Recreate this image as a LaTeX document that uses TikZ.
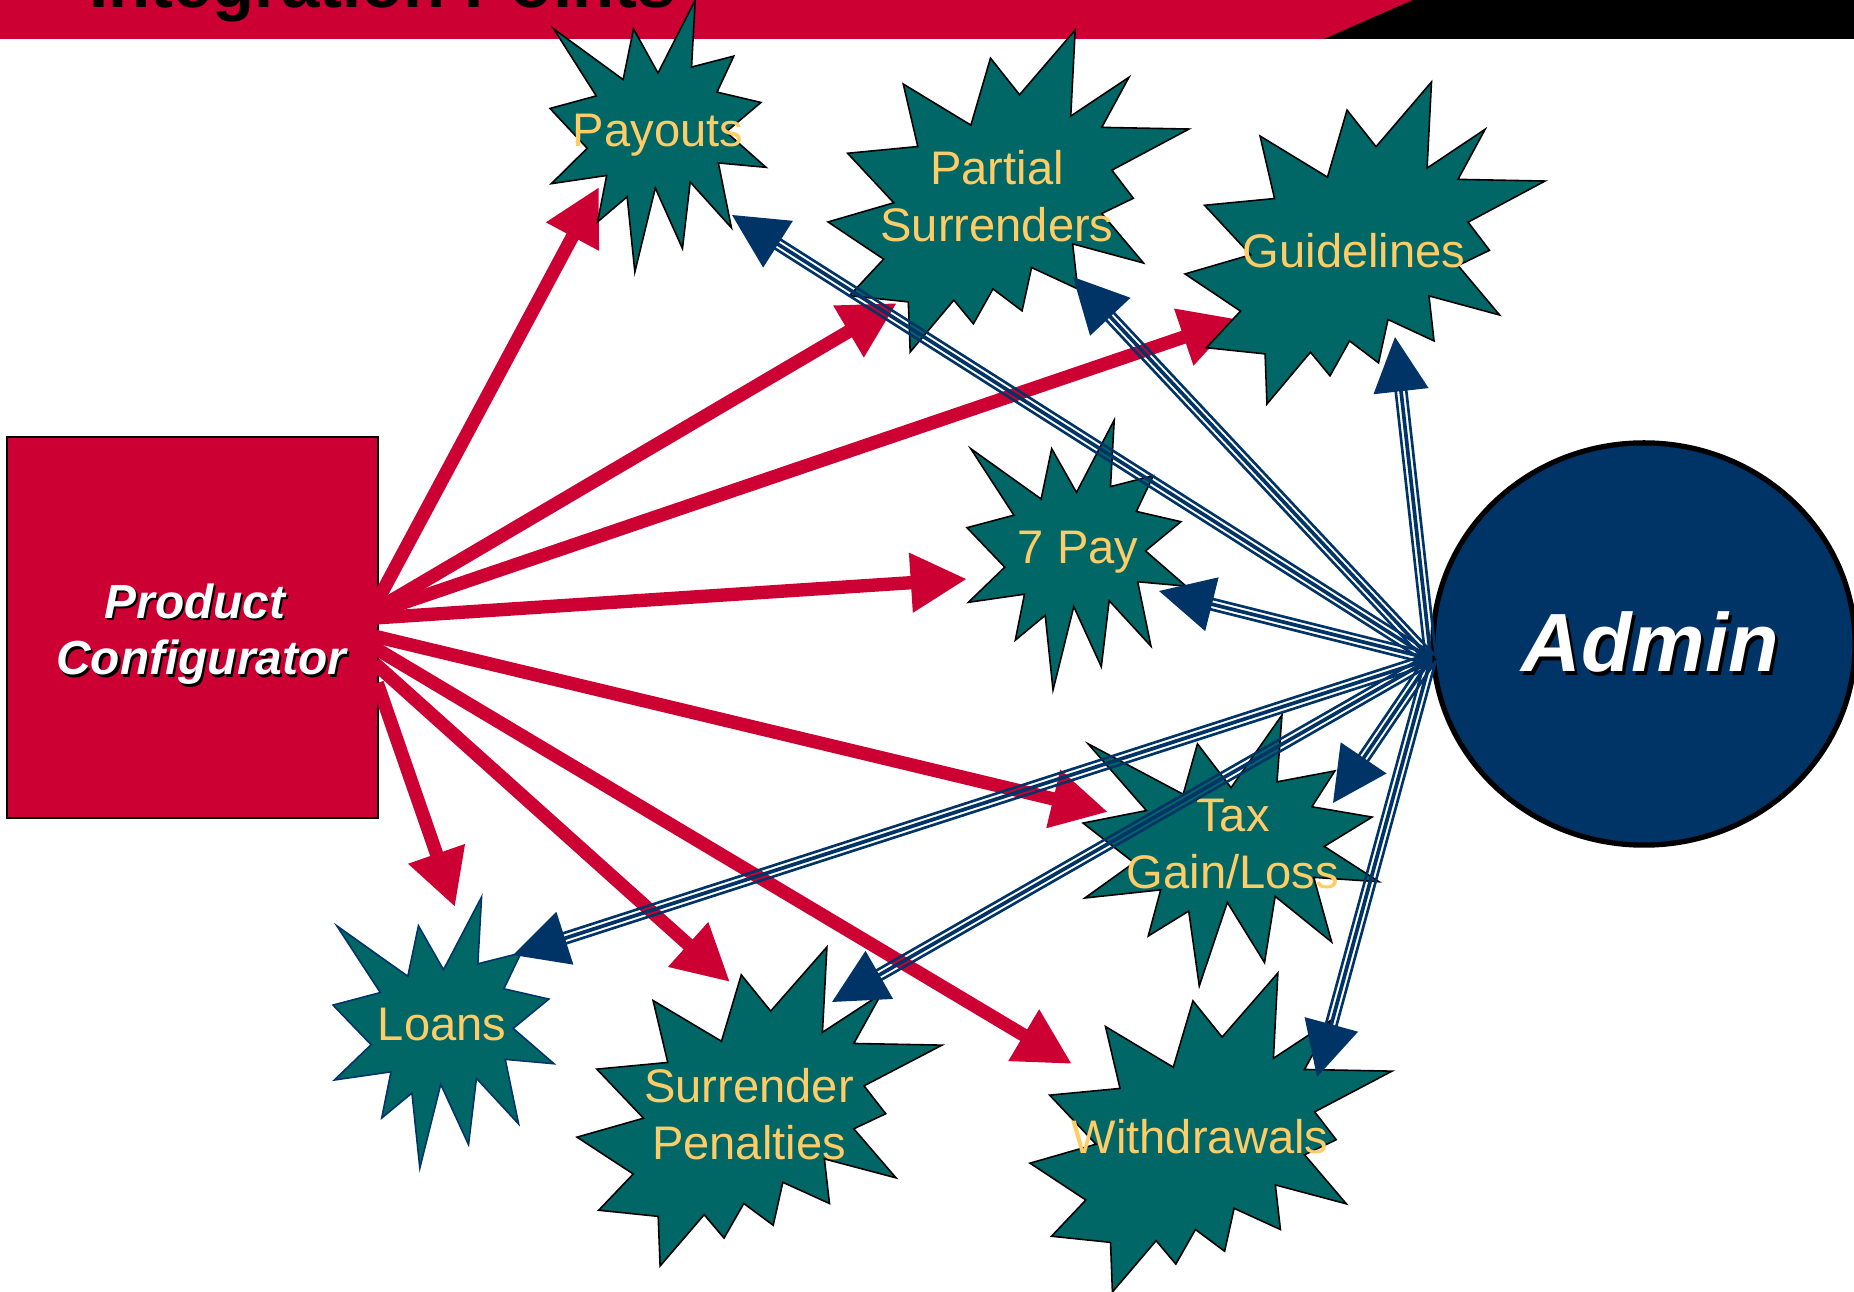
\documentclass[tikz,border=0pt]{standalone}
\usepackage{fontspec}
\setmainfont{Liberation Sans}
\setsansfont{Liberation Sans}
\usetikzlibrary{arrows.meta, calc, shapes.geometric}
\definecolor{cred}{HTML}{CC0033}
\definecolor{cteal}{HTML}{006666}
\definecolor{cnavy}{HTML}{003366}
\definecolor{cgold}{HTML}{FFCC66}
\tikzset{
  every picture/.style={font=\sffamily},
  seal/.style={fill=cteal, draw=black, line width=0.45pt},
  sealtext/.style={text=cgold, align=center, inner sep=0pt, font=\sffamily\fontsize{13.4}{16.2}\selectfont},
  feed/.style={draw=cred, line width=3.8pt, -{Triangle[length=16pt, width=16pt]}, shorten <=-1.5pt},
  tri/.style={draw=cnavy, line width=0.75pt},
  trihead/.style={draw=cnavy, line width=1.05pt, -{Triangle[length=15.5pt, width=15.5pt]}},
}
% text with a drop shadow
\newcommand\shtext[2]{\leavevmode\rlap{\kern#1\raisebox{-#1}{\color{black}#2}}#2}
% explosion shapes, given x0, y0, width, height
\newcommand\sealone[5][]{\filldraw[seal, #1, shift={(#2,#3)}, xscale=#4/216, yscale=#5/216]
  (108,58) -- (145.22,0) -- (141.55,53.25) -- (183.80,44.57) -- (167.02,73.15) -- (210.97,81.37)
  -- (176.07,104.75) -- (216,132.90) -- (168.37,129.42) -- (181.45,180.95) -- (140.20,144.57)
  -- (132.47,197.37) -- (105.32,149.35) -- (84.85,216) -- (77.15,156.27) -- (47.62,176.17)
  -- (56.67,139.37) -- (1.35,145.87) -- (37.22,117.75) -- (0,86.15) -- (46.27,76.17) -- (3.70,22.95)
  -- (73.12,63.20) -- (83.52,22.95) -- cycle;}
\newcommand\sealtwo[5][]{\filldraw[seal, #1, shift={(#2,#3)}, xscale=#4/216, yscale=#5/216]
  (114.62,43.42) -- (147.90,0) -- (145.25,57.77) -- (180.07,31.72) -- (163.80,65.32) -- (216,66.45)
  -- (169.85,94.02) -- (182.70,112.90) -- (163.80,123.10) -- (188.77,156.32) -- (146.40,143.50)
  -- (149.42,173.70) -- (121.80,159.35) -- (116.12,188.42) -- (98.72,173.70) -- (87.00,197.12)
  -- (75.27,181.25) -- (49.17,216) -- (48.05,182.40) -- (12.85,178.25) -- (33.30,153.70)
  -- (0,128.77) -- (39.35,115.92) -- (11.72,82.70) -- (53.72,78.17) -- (45.02,36.25)
  -- (85.50,63.82) -- (97.22,18.87) -- cycle;}
% triple line from admin (thin, thick, thin)
\newcommand\trilink[2]{%
  \draw[tri, shorten >=14pt] ($(#1)!1.5pt!90:(#2)$) -- ($(#2)!1.5pt!-90:(#1)$);
  \draw[tri, shorten >=14pt] ($(#1)!1.5pt!-90:(#2)$) -- ($(#2)!1.5pt!90:(#1)$);
  \draw[trihead] (#1) -- (#2);}

\begin{document}
\begin{tikzpicture}[x=0.01cm, y=-0.01cm]
  \useasboundingbox (0,0) rectangle (1854,1292);
  % banner
  \fill[cred] (0,0) rectangle (1854,39);
  \fill[black] (1324,39) -- (1413,0) -- (1854,0) -- (1854,39) -- cycle;
  \node[font=\bfseries\fontsize{19.6}{23}\selectfont, anchor=base west, inner sep=0pt] (ttl) at (89,8) {Integration Points};

  \node[draw=black, line width=0.5pt, fill=cred, minimum width=3.71cm, minimum height=3.81cm] (pc) at (192.5,627.5) {};
  \node[text=white, align=center, font=\bfseries\itshape\fontsize{13.6}{16}\selectfont] (pctext) at (195,635.5)
    {\shtext{0.6pt}{Product}\\\hspace*{3.5pt}\shtext{0.6pt}{Configurator}};

  % arrow tips
  \coordinate (payR) at (599,187);   \coordinate (payB) at (732,215);
  \coordinate (partR) at (897,303);  \coordinate (partB) at (1073,277);
  \coordinate (guideR) at (1237,319); \coordinate (guideB) at (1395,337);
  \coordinate (sevenR) at (967,579); \coordinate (sevenB) at (1159,591);
  \coordinate (taxR) at (1108,812);  \coordinate (taxB) at (1333,803);
  \coordinate (wdR) at (1072,1064);  \coordinate (wdB) at (1317,1077);
  \coordinate (penR) at (730,982);   \coordinate (penB) at (832,1002);
  \coordinate (loanR) at (455,907);  \coordinate (loanB) at (513,955);

  \foreach \a/\t in {9/payR, 6/partR, 5/guideR, 3/sevenR, -3/taxR, -7/wdR, -12/penR, -18/loanR}
    \draw[feed] (pc.\a) -- (\t);

  \sealone{550}{0}{216}{272}
  \sealtwo{828}{30}{361}{322}
  \sealtwo{1185}{82}{360}{322}
  \sealone{967}{420}{219}{270}
  \sealone{1083}{715}{296}{271}
  \sealone[draw=cnavy]{333}{897}{221}{271}
  \sealtwo{577}{947}{365}{319}
  \sealtwo{1030}{973}{362}{319}
  \node[sealtext] (pay) at (658,135) {Payouts};
  \node[sealtext] (part) at (997,196) {Partial\\Surrenders};
  \node[sealtext] (guide) at (1354,251) {Guidelines};
  \node[sealtext] (seven) at (1078,552) {7 Pay};
  \node[sealtext] (tax) at (1233,844) {Tax\\Gain/Loss};
  \node[sealtext] (loans) at (442,1025) {Loans};
  \node[sealtext] (pen) at (749,1114) {Surrender\\Penalties};
  \node[sealtext] (wd) at (1200,1137) {Withdrawals};

  \node[ellipse, draw=black, line width=1.5pt, fill=cnavy, minimum width=4.22cm, minimum height=4.02cm,
    inner sep=0pt, text=white, font=\bfseries\itshape\fontsize{23.5}{27}\selectfont] (adm) at (1644,644)
    {\kern3.4pt\shtext{0.9pt}{Admin}};

  \foreach \t in {payB, partB, guideB, sevenB, taxB, wdB, penB, loanB}
    \trilink{adm.184}{\t};
\end{tikzpicture}
\end{document}
